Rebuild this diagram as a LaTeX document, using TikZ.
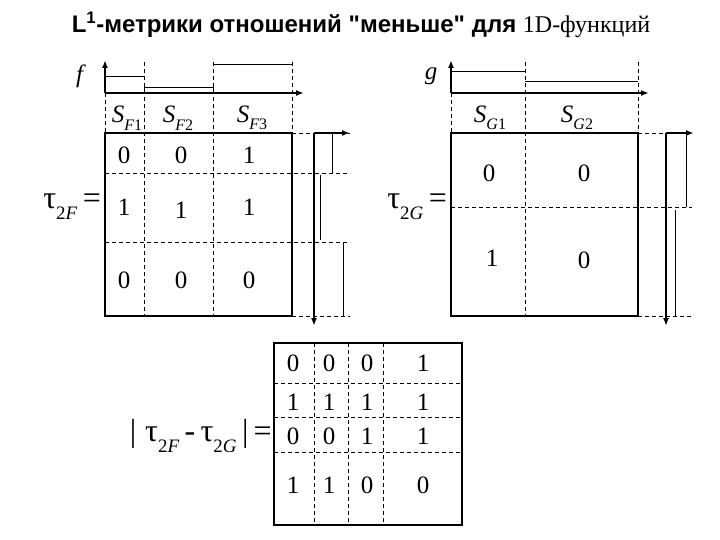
\documentclass[tikz,border=0pt]{standalone}
\usepackage{fontspec}
\setmainfont{Liberation Serif}
\setsansfont{Liberation Sans}[Ligatures=TeXOff]
\usetikzlibrary{arrows.meta}
\newcommand{\Sset}[2]{\textit{S}\raisebox{-0.3em}{\fontsize{16}{16}\selectfont\textit{#1}#2}}
\newcommand{\tauset}[2]{τ\raisebox{-0.35em}{\fontsize{#2}{#2}\selectfont 2\textit{#1}}}
\begin{document}
\begin{tikzpicture}[x=1pt,y=-1pt,
		axis/.style={line width=2pt,-{Latex[length=8pt,width=6pt]}},
		raster/.style={line width=0.7pt,dash pattern=on 4pt off 3pt},
		frame/.style={line width=2.2pt},
		fline/.style={line width=1pt},
		num/.style={inner sep=0pt,font=\fontsize{25}{25}\selectfont},
		lab/.style={inner sep=0pt,font=\fontsize{25}{25}\selectfont}]
		\useasboundingbox (0,0) rectangle (720,540);
		\node[inner sep=0pt,font=\fontsize{24}{24}\selectfont] (title) at (361,25)
			{{\sffamily\bfseries L\textsuperscript{1}-метрики отношений "меньше" для }1D-функций};
		% f
		\draw[raster] (105,93)--(105,133) (144,62)--(144,316) (213,62)--(213,316) (292,62)--(292,133);
		\draw[raster] (105,173)--(350,173) (105,242)--(350,242) (292,133)--(350,133) (292,316)--(350,316);
		\draw[fline] (105,77)--(144,77) (144,93)|-(213,88)--(213,93) (213,65)--(292,65);
		\draw[fline] (332,133)--(332,173) (320,175)--(320,240) (343,242)--(343,316);
		\draw[axis] (105,93)--(105,60);
		\draw[axis] (105,93)--(304,93);
		\draw[axis] (314,133)--(350,133);
		\draw[axis] (314,133)--(314,326);
		\draw[frame] (105,133) rectangle (292,316);
		\node[lab] (f) at (81,76) {\textit{f}};
		\node[lab] (sf1) at (127,118) {\Sset{F}{1}};
		\node[lab] (sf2) at (178,118) {\Sset{F}{2}};
		\node[lab] (sf3) at (252,118) {\Sset{F}{3}};
		\node[num] at (124,155) {0};
		\node[num] at (181,155) {0};
		\node[num] at (249,155) {1};
		\node[num] at (124,207) {1};
		\node[num] at (181,210) {1};
		\node[num] at (249,207) {1};
		\node[num] at (124,280) {0};
		\node[num] at (181,280) {0};
		\node[num] at (249,280) {0};
		\node[inner sep=0pt,anchor=east,font=\fontsize{32}{32}\selectfont] (tf) at (101,207) {\tauset{F}{19}\,=};
		% g
		\draw[raster] (451,93)--(451,133) (525,62)--(525,316) (638,62)--(638,133);
		\draw[raster] (451,207)--(692,207) (638,133)--(692,133) (638,316)--(692,316);
		\draw[fline] (451,72)--(525,72) (525,82)--(638,82);
		\draw[fline] (686,133)--(686,207) (675,210)--(675,316);
		\draw[axis] (451,93)--(451,60);
		\draw[axis] (451,93)--(649,93);
		\draw[axis] (666,133)--(694,133);
		\draw[axis] (666,133)--(666,326);
		\draw[frame] (451,133) rectangle (638,316);
		\node[lab] (g) at (431,76) {\textit{g}};
		\node[lab] (sg1) at (490,118) {\Sset{G}{1}};
		\node[lab] (sg2) at (577,118) {\Sset{G}{2}};
		\node[num] at (489,173) {0};
		\node[num] at (584,173) {0};
		\node[num] at (492,258) {1};
		\node[num] at (584,260) {0};
		\node[inner sep=0pt,anchor=east,font=\fontsize{32}{32}\selectfont] (tg) at (447,207) {\tauset{G}{19}\,=};
		% |f-g|
		\draw[raster] (314,343)--(314,525) (348,343)--(348,525) (383,343)--(383,525);
		\draw[raster] (274,383)--(462,383) (274,417)--(462,417) (274,452)--(462,452);
		\draw[frame] (274,343) rectangle (462,525);
		\foreach \y/\a/\b/\c/\d in {363/0/0/0/1,402/1/1/1/1,436/0/0/1/1,485/1/1/0/0}
			\foreach \x/\v in {293/\a,329/\b,367/\c,423/\d}
				\node[num] at (\x,\y) {\v};
		\node[inner sep=0pt,anchor=east,font=\fontsize{32}{32}\selectfont] (tfg) at (272,436) {|\;\tauset{F}{19}\,-\,\tauset{G}{19}\,|\,=};
\end{tikzpicture}
\end{document}
